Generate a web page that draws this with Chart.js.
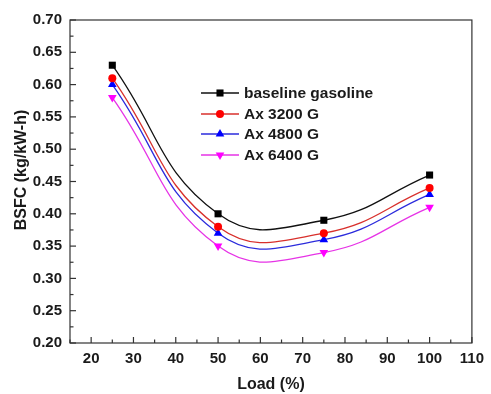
<!DOCTYPE html>
<html>
<head>
<meta charset="utf-8">
<script src="https://cdn.jsdelivr.net/npm/chart.js@4.4.1/dist/chart.umd.min.js"></script>
<style>
  html, body { margin: 0; padding: 0; background: #fff; }
  #wrap { width: 491px; height: 394px; }
</style>
</head>
<body>
<div id="wrap"><canvas id="myChart"></canvas></div>
<script>
// data
const loads = [25, 50, 75, 100];
const names = ['baseline gasoline', 'Ax 3200 G', 'Ax 4800 G', 'Ax 6400 G'];
const baseline = [0.63, 0.40, 0.39, 0.46];
const ax3200 = [0.61, 0.38, 0.37, 0.44];
const ax4800 = [0.60, 0.37, 0.36, 0.43];
const ax6400 = [0.58, 0.35, 0.34, 0.41];

const lineColors = ['#111111', '#d8302c', '#2b2bdc', '#e633e6'];
const markColors = ['#000000', '#ff0000', '#0000ff', '#ff00ff'];
const markStyles = ['rect', 'circle', 'triangle', 'triangle'];
const markRot = [0, 0, 0, 180];
const markRadius = [5, 4, 5, 5];

const FONT = 'Liberation Sans, Arial, sans-serif';
const TEXT = '#1a1a1a';

const allSeries = [baseline, ax3200, ax4800, ax6400];

const datasets = allSeries.map((vals, i) => ({
  label: names[i],
  data: loads.map((x, j) => ({ x: x, y: vals[j] })),
  borderColor: lineColors[i],
  backgroundColor: markColors[i],
  borderWidth: 1.3,
  tension: 0.45,
  pointStyle: markStyles[i],
  rotation: markRot[i],
  pointRadius: markRadius[i],
  pointBorderWidth: 0,
  pointBackgroundColor: markColors[i],
}));

// frame + inward ticks + legend + y title
const framePlugin = {
  id: 'frame',
  afterDraw(chart) {
    const ctx = chart.ctx;
    const a = chart.chartArea;
    ctx.save();
    ctx.strokeStyle = '#333';
    ctx.lineWidth = 1.2;
    ctx.strokeRect(a.left, a.top, a.right - a.left, a.bottom - a.top);

    const xs = chart.scales.x;
    xs.ticks.forEach(t => {
      const px = xs.getPixelForValue(t.value);
      const len = t.value % 10 === 0 ? 6 : 3.5;
      ctx.beginPath();
      ctx.moveTo(px, a.bottom);
      ctx.lineTo(px, a.bottom - len);
      ctx.stroke();
    });
    const ys = chart.scales.y;
    ys.ticks.forEach(t => {
      const py = ys.getPixelForValue(t.value);
      const len = Math.round(t.value / 0.025) % 2 === 0 ? 6 : 3.5;
      ctx.beginPath();
      ctx.moveTo(a.left, py);
      ctx.lineTo(a.left + len, py);
      ctx.stroke();
    });

    // legend
    const rows = [93, 114, 134, 155];
    ctx.font = 'bold 15.5px ' + FONT;
    ctx.textBaseline = 'middle';
    names.forEach((n, i) => {
      const y = rows[i];
      ctx.strokeStyle = lineColors[i];
      ctx.lineWidth = 1.3;
      ctx.beginPath();
      ctx.moveTo(201, y);
      ctx.lineTo(239, y);
      ctx.stroke();
      ctx.fillStyle = markColors[i];
      Chart.helpers.drawPoint(ctx, {
        pointStyle: markStyles[i], rotation: markRot[i],
        radius: markRadius[i], borderWidth: 0
      }, 220, y);
      ctx.fillStyle = TEXT;
      ctx.fillText(n, 244, y + 1);
    });

    // y axis title
    ctx.translate(22, 170);
    ctx.rotate(-Math.PI / 2);
    ctx.textAlign = 'center';
    ctx.font = 'bold 16px ' + FONT;
    ctx.fillText('BSFC (kg/kW-h)', 0, 0);
    ctx.restore();
  }
};

const ctx = document.getElementById('myChart');
new Chart(ctx, {
  type: 'line',
  data: { datasets: datasets },
  options: {
    responsive: true,
    maintainAspectRatio: false,
    animation: false,
    layout: { padding: { top: 20, right: 17, left: 0, bottom: 0 } },
    plugins: { legend: { display: false }, tooltip: { enabled: false } },
    scales: {
      x: {
        type: 'linear',
        min: 15,
        max: 110,
        afterFit: s => { s.height = 51; },
        grid: { display: false, drawTicks: false },
        border: { display: false },
        ticks: {
          stepSize: 5,
          autoSkip: false,
          maxRotation: 0,
          padding: 7,
          color: TEXT,
          font: { family: FONT, size: 15, weight: 'bold' },
          callback: v => (v % 10 === 0 ? String(v) : ''),
        },
        title: {
          display: true,
          text: 'Load (%)',
          color: TEXT,
          font: { family: FONT, size: 16, weight: 'bold' },
          padding: { top: 0, bottom: 0 },
        },
      },
      y: {
        min: 0.2,
        max: 0.7,
        afterFit: s => { s.width = 70; },
        grid: { display: false, drawTicks: false },
        border: { display: false },
        ticks: {
          stepSize: 0.025,
          autoSkip: false,
          padding: 8,
          color: TEXT,
          font: { family: FONT, size: 15, weight: 'bold' },
          callback: v => (Math.round(v / 0.025) % 2 === 0 ? v.toFixed(2) : ''),
        },
      },
    },
  },
  plugins: [framePlugin],
});
</script>
</body>
</html>
